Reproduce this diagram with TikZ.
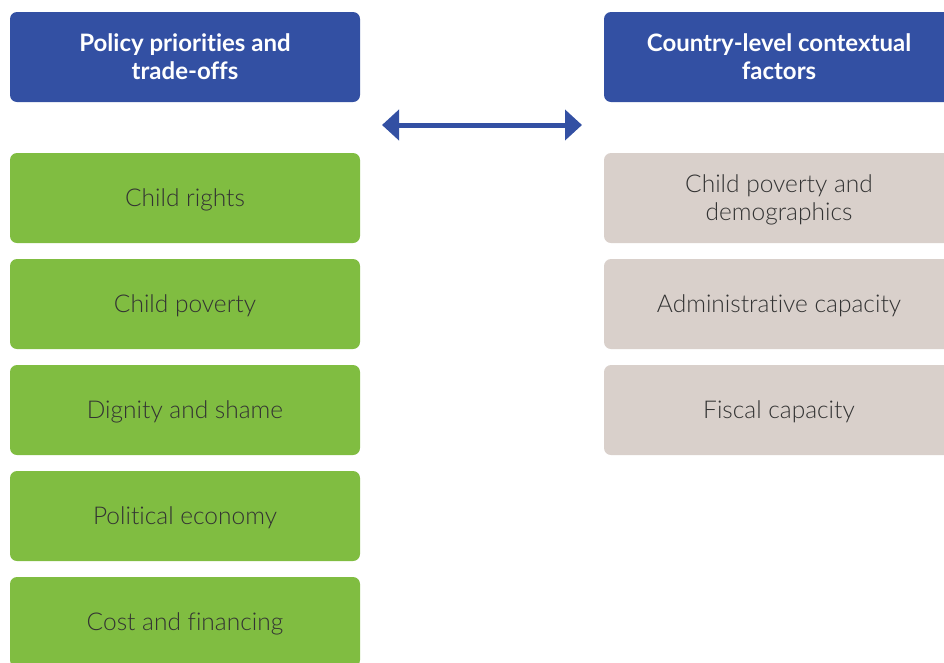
\documentclass[tikz,border=0pt]{standalone}
\usepackage{fontspec}
\setmainfont{Lato}[UprightFont=* Light, BoldFont=* Bold, Ligatures={NoCommon}]
\usetikzlibrary{arrows.meta}
\definecolor{hblue}{HTML}{3350A3}
\definecolor{lgreen}{HTML}{80BD41}
\definecolor{lbeige}{HTML}{D9D0CB}
\definecolor{dtext}{HTML}{333333}
\tikzset{
  box/.style={rounded corners=7pt, minimum width=350pt, minimum height=90pt, inner sep=0pt, align=center, text depth=0pt},
  headbox/.style={box, fill=hblue, text=white, font=\fontsize{24}{28}\selectfont\bfseries},
  greenbox/.style={box, fill=lgreen, text=dtext, font=\fontsize{24.5}{28}\selectfont},
  beigebox/.style={box, fill=lbeige, text=dtext, font=\fontsize{24.5}{28}\selectfont},
  dblarrow/.style={draw=hblue, line width=5pt, {Triangle[width=30pt,length=17pt]}-{Triangle[width=30pt,length=17pt]}}
}
\begin{document}
\begin{tikzpicture}[x=1pt,y=-1pt]
\useasboundingbox (0,0) rectangle (944,662);
\clip (0,0) rectangle (944,662);
\node[headbox] (h1) at (185,57) {Policy priorities and\\trade-offs};
\node[headbox] (h2) at (779,57) {Country-level contextual\\factors};
\node[greenbox] (g1) at (185,198) {Child rights};
\node[greenbox] (g2) at (185,304) {Child poverty};
\node[greenbox] (g3) at (185,410) {Dignity and shame};
\node[greenbox] (g4) at (185,516) {Political economy};
\node[greenbox] (g5) at (185,622) {Cost and financing};
\node[beigebox] (b1) at (779,198) {Child poverty and\\demographics};
\node[beigebox] (b2) at (779,304) {Administrative capacity};
\node[beigebox] (b3) at (779,410) {Fiscal capacity};
\coordinate (aL) at (382,125);
\coordinate (aR) at (582,125);
\draw[dblarrow] (aL) -- (aR);
\end{tikzpicture}
\end{document}
